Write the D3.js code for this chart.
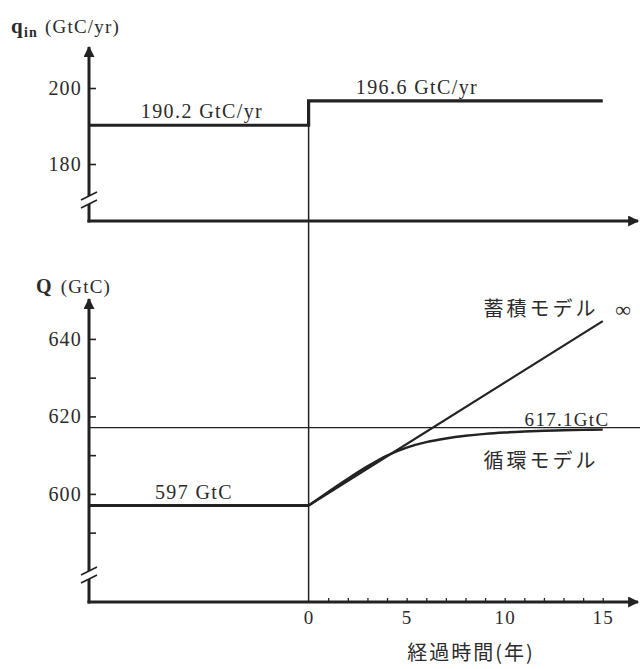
<!DOCTYPE html>
<html>
<head>
<meta charset="utf-8">
<script src="https://cdn.jsdelivr.net/npm/d3@7"></script>
<style>
  html, body { margin: 0; padding: 0; background: #fff; }
  svg { display: block; }
</style>
</head>
<body>
<script>
// Carbon inflow before / after the step at t = 0 (GtC/yr)
const inflowBefore = 190.2;
const inflowAfter = 196.6;

// Carbon stock (GtC): starting level, circulation equilibrium
const stockStart = 597;
const stockEquilibrium = 617.1;

// Circulation model: stock vs. elapsed years
const years = [0, 1, 2, 3, 4, 5, 6, 7, 8, 9, 10, 11, 12, 13, 14, 15];
const circulation = [597, 600.5, 603.9, 607.1, 609.9, 611.95, 613.35, 614.3,
                     615.0, 615.5, 615.85, 616.1, 616.28, 616.41, 616.51, 616.59];

// Accumulation model: straight growth line
const accumYears = [0, 15];
const accumulation = [597, 644.6];

// Axis ticks and labels
const inflowTicks = [180, 200];
const stockTicksMajor = [600, 620, 640];
const stockTicksMinor = [590, 610, 630];
const yearTicks = d3.range(0, 16);
const yearLabels = [0, 5, 10, 15];

const W = 640, H = 669;
const ink = "#222";
const textInk = "#2b2b2b";
const SERIF = "'Liberation Serif', 'Times New Roman', serif";
const CJK = "'Noto Sans CJK JP', sans-serif";

const svg = d3.select("body").append("svg")
  .attr("width", W).attr("height", H);

const defs = svg.append("defs");
defs.append("marker")
  .attr("id", "arrow")
  .attr("viewBox", "0 0 10 10")
  .attr("refX", 9).attr("refY", 5)
  .attr("markerUnits", "userSpaceOnUse")
  .attr("markerWidth", 15).attr("markerHeight", 11)
  .attr("orient", "auto")
  .append("path")
  .attr("d", "M0,0 L10,5 L0,10 Z")
  .attr("fill", ink);

// Shared time scale (axis starts left of t = 0)
const x = d3.scaleLinear().domain([-11.2, 16.9]).range([89, 640]);
// Upper panel: inflow
const yTop = d3.scaleLinear().domain([165, 210.8]).range([221, 47]);
// Lower panel: stock
const yBot = d3.scaleLinear().domain([572.1, 650.3]).range([602, 299]);

const x0 = x.domain()[0];

// ---- t = 0 reference line through both panels
svg.append("line")
  .attr("x1", x(0)).attr("x2", x(0))
  .attr("y1", yTop(inflowAfter)).attr("y2", yBot.range()[0])
  .attr("stroke", ink).attr("stroke-width", 1.5);

// ---- equilibrium line
svg.append("line")
  .attr("x1", x(x0)).attr("x2", W)
  .attr("y1", yBot(stockEquilibrium)).attr("y2", yBot(stockEquilibrium))
  .attr("stroke", ink).attr("stroke-width", 1.3);

// ---- axes
function drawAxisLines(yScale) {
  const [yb, yt] = yScale.range();
  svg.append("line")
    .attr("x1", x(x0)).attr("x2", x(x0))
    .attr("y1", yb + 1.5).attr("y2", yt)
    .attr("stroke", ink).attr("stroke-width", 3)
    .attr("marker-end", "url(#arrow)");
  svg.append("line")
    .attr("x1", x(x0) - 1.5).attr("x2", W - 2)
    .attr("y1", yb).attr("y2", yb)
    .attr("stroke", ink).attr("stroke-width", 3)
    .attr("marker-end", "url(#arrow)");
}
drawAxisLines(yTop);
drawAxisLines(yBot);

function breakMark(yScale, offset) {
  const cx = x(x0), cy = yScale.range()[0] - offset;
  const g = svg.append("g");
  g.append("polygon")
    .attr("points", `${cx - 9},${cy + 1} ${cx + 9},${cy - 9} ${cx + 9},${cy - 1} ${cx - 9},${cy + 9}`)
    .attr("fill", "#fff");
  [-4, 4].forEach(d => {
    g.append("line")
      .attr("x1", cx - 8).attr("y1", cy + d + 4)
      .attr("x2", cx + 8).attr("y2", cy + d - 4)
      .attr("stroke", ink).attr("stroke-width", 1.6);
  });
}
breakMark(yTop, 21);
breakMark(yBot, 27);

function styleText(sel, size, spacing) {
  sel.style("font-family", SERIF).style("font-size", size + "px")
    .style("letter-spacing", (spacing || 0) + "px").attr("fill", textInk);
}

// y tick marks point into the plot
function yAxis(scale, values, labels) {
  const g = svg.append("g")
    .attr("transform", `translate(${x(x0)},0)`)
    .call(d3.axisLeft(scale).tickValues(values).tickSize(-7).tickPadding(7)
      .tickFormat(labels ? d3.format("d") : ""));
  g.select(".domain").remove();
  g.selectAll(".tick line").attr("stroke", ink).attr("stroke-width", 1.6);
  styleText(g.selectAll(".tick text"), 20, 1.2);
}
yAxis(yTop, inflowTicks, true);
yAxis(yBot, stockTicksMajor, true);
yAxis(yBot, stockTicksMinor, false);

// x ticks on the lower axis
const xg = svg.append("g")
  .attr("transform", `translate(0,${yBot.range()[0]})`)
  .call(d3.axisBottom(x).tickValues(yearTicks).tickSize(-4).tickPadding(9)
    .tickFormat(d => yearLabels.includes(d) ? d : ""));
xg.select(".domain").remove();
xg.selectAll(".tick line").attr("stroke", ink).attr("stroke-width", 1.3)
  .filter(d => d === 0).remove();
styleText(xg.selectAll(".tick text"), 19, 1.2);

// ---- inflow step
const stepData = [[x0, inflowBefore], [0, inflowBefore], [0, inflowAfter], [15, inflowAfter]];
svg.append("path")
  .datum(stepData)
  .attr("d", d3.line().x(d => x(d[0])).y(d => yTop(d[1])))
  .attr("fill", "none").attr("stroke", ink).attr("stroke-width", 3.2)
  .attr("stroke-linejoin", "miter");

// ---- stock before the step
svg.append("line")
  .attr("x1", x(x0)).attr("x2", x(0))
  .attr("y1", yBot(stockStart)).attr("y2", yBot(stockStart))
  .attr("stroke", ink).attr("stroke-width", 3.2);

// ---- accumulation model
svg.append("path")
  .datum(accumYears.map((t, i) => [t, accumulation[i]]))
  .attr("d", d3.line().x(d => x(d[0])).y(d => yBot(d[1])))
  .attr("fill", "none").attr("stroke", ink).attr("stroke-width", 2.2);

// ---- circulation model
svg.append("path")
  .datum(years.map((t, i) => [t, circulation[i]]))
  .attr("d", d3.line().curve(d3.curveCatmullRom.alpha(0.5)).x(d => x(d[0])).y(d => yBot(d[1])))
  .attr("fill", "none").attr("stroke", ink).attr("stroke-width", 2.4);

// ---- labels
function serifLabel(txt, px, py, size, spacing) {
  const t = svg.append("text").attr("x", px).attr("y", py)
    .attr("text-anchor", "middle").text(txt);
  styleText(t, size, spacing);
  return t;
}
function cjkLabel(txt, px, py, size, spacing) {
  return svg.append("text").attr("x", px).attr("y", py)
    .attr("text-anchor", "middle")
    .style("font-family", CJK).style("font-size", size + "px")
    .style("letter-spacing", spacing + "px")
    .attr("fill", textInk).text(txt);
}

serifLabel(`${inflowBefore} GtC/yr`, 202, 118, 20, 1.4);
serifLabel(`${inflowAfter} GtC/yr`, 417, 94, 20, 1.4);
serifLabel(`${stockStart} GtC`, 194, 499, 20, 1.4);
serifLabel(`${stockEquilibrium}GtC`, 567, 426, 19, 1.3);
serifLabel("∞", 623, 317, 22, 0);

cjkLabel("蓄積モデル", 541, 316, 20, 3);
cjkLabel("循環モデル", 541, 468, 20, 3);
cjkLabel("経過時間(年)", 471, 660, 20, 2);

// axis titles
const tq = svg.append("text").attr("x", 11).attr("y", 33);
styleText(tq, 19, 1.2);
tq.append("tspan").attr("font-weight", "bold").style("font-size", "21px").text("q");
tq.append("tspan").attr("font-weight", "bold").style("font-size", "14px").attr("dy", 4).text("in");
tq.append("tspan").attr("dy", -4).attr("dx", 7).text("(GtC/yr)");

const tQ = svg.append("text").attr("x", 36).attr("y", 293);
styleText(tQ, 19, 1.2);
tQ.append("tspan").attr("font-weight", "bold").style("font-size", "20px").text("Q");
tQ.append("tspan").attr("dx", 8).text("(GtC)");
</script>
</body>
</html>
